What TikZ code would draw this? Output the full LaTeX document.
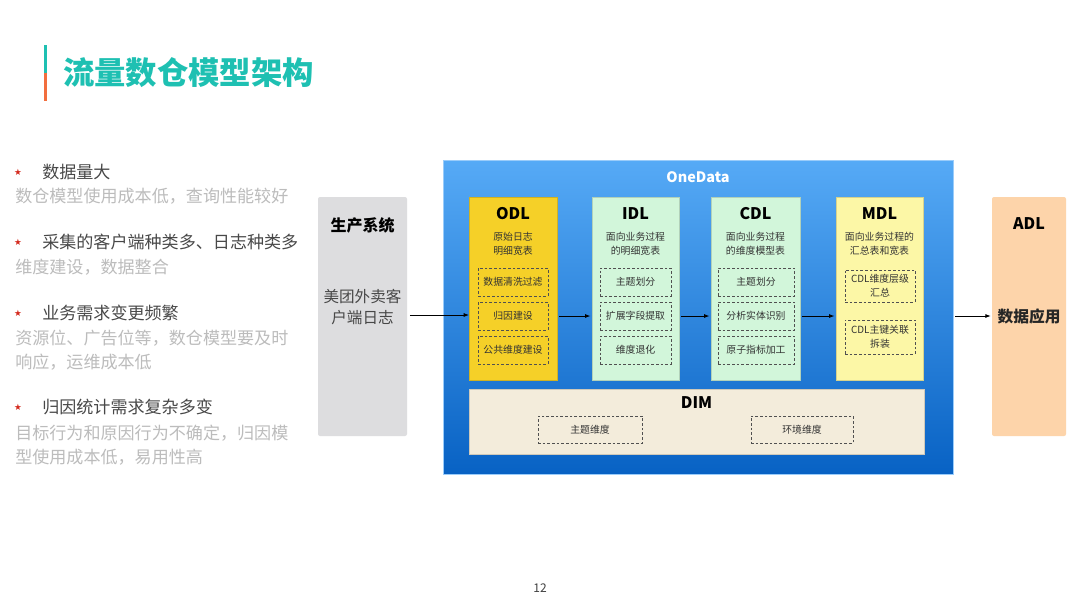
\documentclass[tikz,border=0pt]{standalone}
\usepackage{fontspec}
\setmainfont{Noto Sans CJK SC}
\newfontfamily\symfont{DejaVu Sans}
\usetikzlibrary{arrows.meta,fit}
\definecolor{teal1}{RGB}{30,192,178}
\definecolor{orange1}{RGB}{242,110,62}
\definecolor{darktxt}{RGB}{72,72,72}
\definecolor{graytxt}{RGB}{188,188,188}
\definecolor{starred}{RGB}{212,40,28}
\definecolor{prodgray}{RGB}{221,221,223}
\definecolor{bluetop}{RGB}{86,170,246}
\definecolor{bluebot}{RGB}{8,98,196}
\definecolor{odlyellow}{RGB}{245,208,40}
\definecolor{lgreen}{RGB}{210,246,218}
\definecolor{lyellow}{RGB}{252,247,166}
\definecolor{dimbeige}{RGB}{243,236,219}
\definecolor{adlpeach}{RGB}{253,212,170}
\definecolor{dashc}{RGB}{80,80,80}
\begin{document}
\begin{tikzpicture}[x=0.75pt,y=-0.75pt,
  area/.style={inner sep=0pt, outer sep=0pt},
  layerbox/.style={area, draw=#1!85!black, line width=0.4pt, fill=#1},
  dbox/.style={area, draw=dashc, line width=0.55pt, dash pattern=on 2pt off 1.5pt, align=center,
     font=\fontsize{7.4}{10.5}\selectfont, text=black!80},
  ttl/.style={inner sep=0pt, font=\fontsize{12}{14}\selectfont\bfseries, text=black},
  sub/.style={inner sep=0pt, align=center, font=\fontsize{7.4}{10.5}\selectfont, text=black!80},
  bul/.style={inner sep=0pt, anchor=west, font=\fontsize{12.8}{17}\selectfont, text=darktxt},
  gtx/.style={inner sep=0pt, anchor=west, align=left, font=\fontsize{12.8}{18}\selectfont, text=graytxt},
  star/.style={inner sep=0pt, font=\symfont\fontsize{6.5}{7}\selectfont, text=starred},
  arr/.style={-{Latex[length=4pt,width=3pt]}, line width=0.6pt, black}
]
\fill[white] (0,0) rectangle (1080,608);
\useasboundingbox (0,0) rectangle (1080,608);

% title
\fill[teal1] (44,45) rectangle (47,73);
\fill[orange1] (44,73) rectangle (47,101);
\node[inner sep=0pt, anchor=west, text=teal1, font=\fontsize{23.5}{26}\selectfont\bfseries] (title) at (63,73) {流量数仓模型架构};

% bullets
\node[star] (s1) at (18,172) {★};
\node[bul] (b1) at (42,172) {数据量大};
\node[gtx] (g1) at (15,196) {数仓模型使用成本低，查询性能较好};
\node[star] (s2) at (18,242) {★};
\node[bul] (b2) at (42,242) {采集的客户端种类多、日志种类多};
\node[gtx] (g2) at (15,267) {维度建设，数据整合};
\node[star] (s3) at (18,313) {★};
\node[bul] (b3) at (42,313) {业务需求变更频繁};
\node[gtx] (g3) at (15,350) {资源位、广告位等，数仓模型要及时\\响应，运维成本低};
\node[star] (s4) at (18,407) {★};
\node[bul] (b4) at (42,407) {归因统计需求复杂多变};
\node[gtx] (g4) at (15,445) {目标行为和原因行为不确定，归因模\\型使用成本低，易用性高};

% production system
\node[area, fill=prodgray, rounded corners=1.5pt, fit={(318,197)(407,436)}] (prod) {};
\node[ttl] (prodT) at (362.5,225) {生产系统};
\node[inner sep=0pt, align=center, font=\fontsize{11.7}{16}\selectfont, text=darktxt] (prodS) at (362.5,307) {美团外卖客\\户端日志};

% OneData
\node[area, top color=bluetop, bottom color=bluebot, draw=bluetop!60!white, line width=0.5pt, fit={(443,160)(953,474)}] (one) {};
\node[inner sep=0pt, text=white, font=\fontsize{10.8}{13}\selectfont\bfseries] (oneT) at (698,177) {OneData};

% ODL
\node[layerbox=odlyellow, fit={(469,197)(557,380)}] (odl) {};
\node[ttl] (odlT) at (513,214) {ODL};
\node[sub] (odlS) at (513,244) {原始日志\\明细宽表};
\node[dbox, fit={(478,268)(548,296)}] (odl1) {};
\node[sub] at (odl1.center) (odl1t) {数据清洗过滤};
\node[dbox, fit={(478,302)(548,330)}] (odl2) {};
\node[sub] at (odl2.center) (odl2t) {归因建设};
\node[dbox, fit={(478,336)(548,364)}] (odl3) {};
\node[sub] at (odl3.center) (odl3t) {公共维度建设};

% IDL
\node[layerbox=lgreen, fit={(592,197)(679,380)}] (idl) {};
\node[ttl] (idlT) at (635.5,214) {IDL};
\node[sub] (idlS) at (635.5,244) {面向业务过程\\的明细宽表};
\node[dbox, fit={(600,268)(671,296)}] (idl1) {};
\node[sub] at (idl1.center) (idl1t) {主题划分};
\node[dbox, fit={(600,302)(671,330)}] (idl2) {};
\node[sub] at (idl2.center) (idl2t) {扩展字段提取};
\node[dbox, fit={(600,336)(671,364)}] (idl3) {};
\node[sub] at (idl3.center) (idl3t) {维度退化};

% CDL
\node[layerbox=lgreen, fit={(711,197)(800,380)}] (cdl) {};
\node[ttl] (cdlT) at (755.5,214) {CDL};
\node[sub] (cdlS) at (755.5,244) {面向业务过程\\的维度模型表};
\node[dbox, fit={(718,268)(794,296)}] (cdl1) {};
\node[sub] at (cdl1.center) (cdl1t) {主题划分};
\node[dbox, fit={(718,302)(794,330)}] (cdl2) {};
\node[sub] at (cdl2.center) (cdl2t) {分析实体识别};
\node[dbox, fit={(718,336)(794,364)}] (cdl3) {};
\node[sub] at (cdl3.center) (cdl3t) {原子指标加工};

% MDL
\node[layerbox=lyellow, fit={(836,197)(923,380)}] (mdl) {};
\node[ttl] (mdlT) at (879.5,214) {MDL};
\node[sub] (mdlS) at (879.5,244) {面向业务过程的\\汇总表和宽表};
\node[dbox, fit={(845,270)(915,302)}] (mdl1) {};
\node[sub] at (mdl1.center) (mdl1t) {CDL维度层级\\汇总};
\node[dbox, fit={(845,320)(915,354)}] (mdl2) {};
\node[sub] at (mdl2.center) (mdl2t) {CDL主键关联\\拆装};

% DIM
\node[layerbox=dimbeige, fit={(469,389)(924,454)}] (dim) {};
\node[ttl] (dimT) at (696.5,403) {DIM};
\node[dbox, fit={(538,416)(642,443)}] (dim1) {};
\node[sub] at (dim1.center) (dim1t) {主题维度};
\node[dbox, fit={(751,416)(853,443)}] (dim2) {};
\node[sub] at (dim2.center) (dim2t) {环境维度};

% ADL
\node[area, fill=adlpeach, rounded corners=1.5pt, fit={(992,197)(1066,436)}] (adl) {};
\node[ttl] (adlT) at (1029,224) {ADL};
\node[inner sep=0pt, font=\fontsize{11.8}{14}\selectfont\bfseries, text=black!85] (adlS) at (1029,316) {数据应用};

% arrows
\draw[arr] ([xshift=2.2pt]prod.east |- 0,315) coordinate (pa) -- (odl.west |- pa);
\draw[arr] ([xshift=1.5pt]odl.east |- 0,316) coordinate (oa) -- ([xshift=-1.2pt]idl.west |- oa);
\draw[arr] ([xshift=1.5pt]idl.east |- 0,316) coordinate (ia) -- ([xshift=-1.2pt]cdl.west |- ia);
\draw[arr] ([xshift=1.5pt]cdl.east |- 0,316) coordinate (ca) -- ([xshift=-1.2pt]mdl.west |- ca);
\draw[arr] ([xshift=1.5pt]one.east |- 0,316) coordinate (da) -- ([xshift=-1pt]adl.west |- da);

% page number
\node[inner sep=0pt, font=\fontsize{9}{10}\selectfont, text=black!75] (pg) at (540,588) {12};
\end{tikzpicture}
\end{document}
